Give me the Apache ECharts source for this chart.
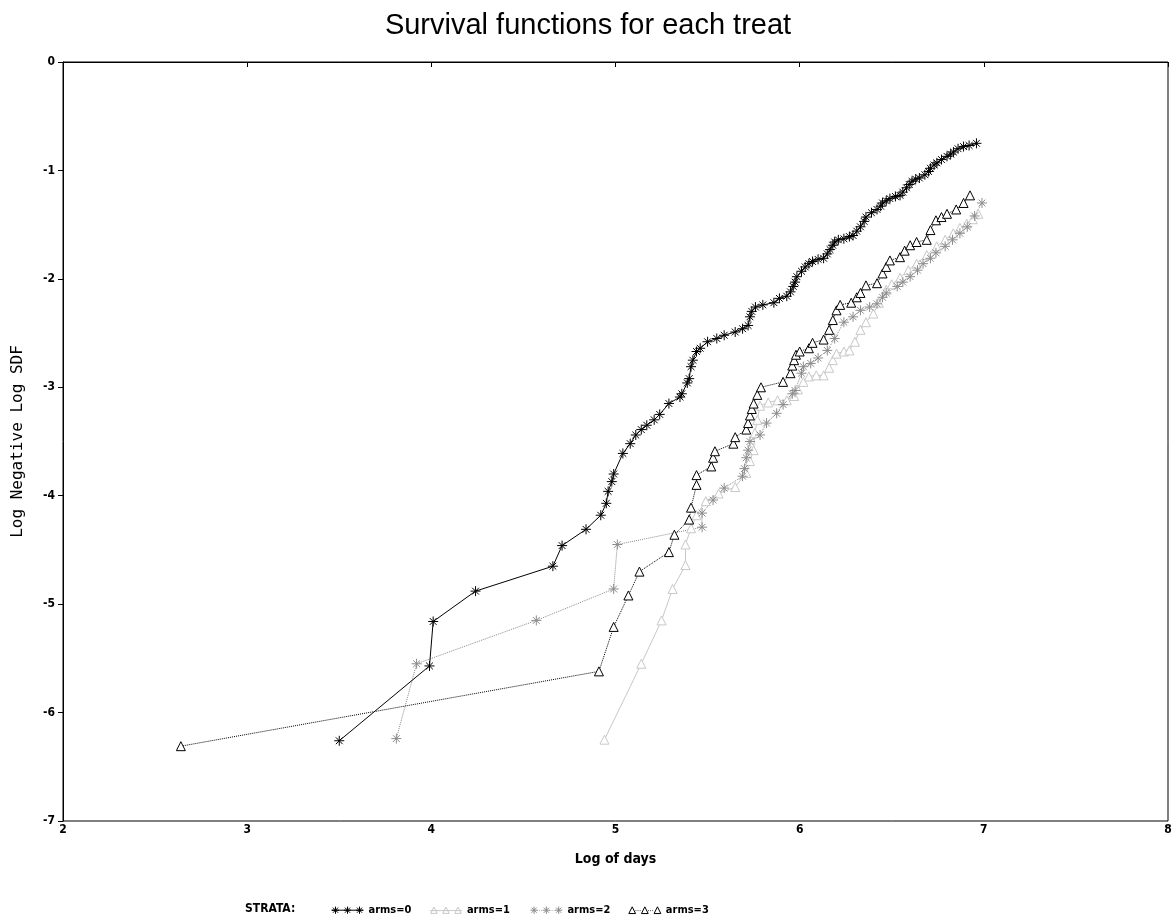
<!DOCTYPE html>
<html>
<head>
<meta charset="utf-8">
<script src="https://cdn.jsdelivr.net/npm/echarts@6/dist/echarts.min.js"></script>
<style>html,body{margin:0;padding:0;background:#fff;}#chart{width:1176px;height:924px;}</style>
</head>
<body>
<div id="chart"></div>
<script>
const seriesNames = ['arms=0', 'arms=1', 'arms=2', 'arms=3'];
const xTicks = [2, 3, 4, 5, 6, 7, 8];
const yTicks = [-7, -6, -5, -4, -3, -2, -1, 0];

const arms0 = [[3.50,-6.26],[3.99,-5.57],[4.01,-5.16],[4.24,-4.88],[4.66,-4.65],[4.71,-4.46],[4.84,-4.31],[4.92,-4.18],[4.95,-4.07],[4.96,-3.96],[4.98,-3.87],[4.99,-3.80],[5.04,-3.61],[5.08,-3.52],[5.11,-3.44],[5.14,-3.39],[5.17,-3.35],[5.21,-3.30],[5.24,-3.25],[5.29,-3.15],[5.35,-3.09],[5.36,-3.06],[5.39,-2.96],[5.40,-2.92],[5.41,-2.81],[5.42,-2.75],[5.44,-2.67],[5.46,-2.64],[5.50,-2.58],[5.55,-2.55],[5.59,-2.52],[5.65,-2.49],[5.69,-2.46],[5.72,-2.43],[5.73,-2.35],[5.74,-2.30],[5.76,-2.26],[5.80,-2.24],[5.86,-2.22],[5.89,-2.18],[5.93,-2.16],[5.95,-2.12],[5.965,-2.07],[5.975,-2.03],[5.985,-1.98],[6.01,-1.93],[6.03,-1.89],[6.05,-1.86],[6.07,-1.84],[6.10,-1.82],[6.13,-1.81],[6.15,-1.77],[6.165,-1.73],[6.18,-1.69],[6.19,-1.66],[6.21,-1.64],[6.24,-1.63],[6.27,-1.61],[6.29,-1.60],[6.31,-1.56],[6.33,-1.52],[6.35,-1.47],[6.36,-1.43],[6.39,-1.39],[6.42,-1.36],[6.44,-1.33],[6.45,-1.30],[6.47,-1.28],[6.49,-1.26],[6.52,-1.24],[6.545,-1.23],[6.56,-1.20],[6.58,-1.16],[6.595,-1.13],[6.61,-1.10],[6.63,-1.08],[6.65,-1.07],[6.68,-1.04],[6.70,-1.01],[6.71,-0.98],[6.73,-0.95],[6.745,-0.93],[6.77,-0.90],[6.80,-0.87],[6.82,-0.85],[6.835,-0.83],[6.86,-0.80],[6.89,-0.78],[6.92,-0.77],[6.96,-0.75]];

const arms1 = [[4.94,-6.25],[5.14,-5.55],[5.25,-5.15],[5.31,-4.86],[5.38,-4.64],[5.38,-4.45],[5.41,-4.30],[5.44,-4.18],[5.49,-4.05],[5.56,-3.98],[5.65,-3.92],[5.71,-3.79],[5.73,-3.68],[5.75,-3.58],[5.757,-3.42],[5.77,-3.30],[5.785,-3.17],[5.83,-3.14],[5.88,-3.12],[5.93,-3.12],[5.97,-3.08],[5.99,-3.02],[6.02,-2.95],[6.05,-2.90],[6.09,-2.89],[6.13,-2.89],[6.16,-2.82],[6.18,-2.75],[6.20,-2.69],[6.24,-2.67],[6.27,-2.66],[6.30,-2.58],[6.33,-2.47],[6.36,-2.40],[6.40,-2.32],[6.43,-2.22],[6.47,-2.10],[6.50,-2.05],[6.545,-1.99],[6.59,-1.92],[6.635,-1.86],[6.69,-1.78],[6.744,-1.70],[6.79,-1.64],[6.834,-1.58],[6.87,-1.53],[6.907,-1.49],[6.94,-1.45],[6.97,-1.40]];

const arms2 = [[3.81,-6.24],[3.92,-5.55],[4.57,-5.15],[4.99,-4.86],[5.01,-4.45],[5.47,-4.29],[5.47,-4.16],[5.53,-4.04],[5.59,-3.93],[5.69,-3.82],[5.70,-3.75],[5.71,-3.65],[5.72,-3.58],[5.73,-3.50],[5.785,-3.44],[5.82,-3.33],[5.875,-3.24],[5.91,-3.16],[5.96,-3.06],[5.975,-3.03],[6.01,-2.87],[6.02,-2.81],[6.06,-2.78],[6.10,-2.73],[6.15,-2.66],[6.19,-2.55],[6.24,-2.40],[6.29,-2.35],[6.33,-2.29],[6.38,-2.26],[6.42,-2.23],[6.45,-2.17],[6.47,-2.13],[6.53,-2.07],[6.56,-2.03],[6.60,-1.98],[6.64,-1.92],[6.67,-1.86],[6.71,-1.81],[6.74,-1.76],[6.79,-1.70],[6.83,-1.64],[6.87,-1.58],[6.91,-1.52],[6.95,-1.42],[6.99,-1.30]];

const arms3 = [[2.64,-6.31],[4.91,-5.62],[4.99,-5.21],[5.07,-4.92],[5.13,-4.70],[5.29,-4.52],[5.32,-4.36],[5.40,-4.22],[5.41,-4.11],[5.44,-3.90],[5.44,-3.81],[5.52,-3.73],[5.53,-3.65],[5.54,-3.59],[5.64,-3.52],[5.65,-3.46],[5.71,-3.39],[5.72,-3.33],[5.73,-3.26],[5.74,-3.20],[5.75,-3.15],[5.77,-3.07],[5.79,-3.00],[5.91,-2.95],[5.95,-2.87],[5.96,-2.80],[5.97,-2.75],[5.98,-2.70],[6.00,-2.67],[6.05,-2.64],[6.07,-2.59],[6.13,-2.56],[6.16,-2.47],[6.18,-2.38],[6.20,-2.29],[6.22,-2.24],[6.28,-2.22],[6.31,-2.17],[6.33,-2.13],[6.36,-2.06],[6.42,-2.04],[6.45,-1.95],[6.47,-1.89],[6.49,-1.83],[6.545,-1.80],[6.57,-1.74],[6.60,-1.69],[6.635,-1.66],[6.69,-1.64],[6.71,-1.55],[6.74,-1.46],[6.77,-1.43],[6.80,-1.40],[6.85,-1.36],[6.89,-1.30],[6.925,-1.23]];

const ASTER = 'path://M5,0L5,10M0,5L10,5M1.6,1.6L8.4,8.4M1.6,8.4L8.4,1.6';
const tickFont = 'DejaVu Sans Condensed, DejaVu Sans, sans-serif';

function asterAt(cx) {
  return 'M' + cx + ',0.5L' + cx + ',9.5M' + (cx - 4.5) + ',5L' + (cx + 4.5) + ',5M' + (cx - 3.2) + ',1.8L' + (cx + 3.2) + ',8.2M' + (cx - 3.2) + ',8.2L' + (cx + 3.2) + ',1.8';
}
function triAt(cx) {
  return 'M' + cx + ',1L' + (cx + 4) + ',9L' + (cx - 4) + ',9Z';
}
function dots(a, b) {
  let s = '';
  for (let x = a; x < b; x += 2.5) s += 'M' + x + ',5.5L' + (x + 0.8) + ',5.5';
  return s;
}
const icons = [
  'path://M0,5L40,5' + asterAt(5) + asterAt(20) + asterAt(35),
  'path://M0,5.5L40,5.5' + triAt(5) + triAt(20) + triAt(35),
  'path://' + dots(9, 16) + dots(24, 31) + asterAt(5) + asterAt(20) + asterAt(35),
  'path://' + dots(9, 16) + dots(24, 31) + triAt(5) + triAt(20) + triAt(35)
];
const iconStroke = ['#000', '#c8c8c8', '#8c8c8c', '#000'];
const iconFill = ['none', '#fff', 'none', '#fff'];

const chart = echarts.init(document.getElementById('chart'), null, {renderer: 'canvas'});

function mk(name, data, sym, stroke, lineType, fill) {
  return {
    name: name,
    type: 'line',
    data: data,
    symbol: sym,
    symbolSize: sym === 'triangle' ? 9 : 10,
    showSymbol: true,
    animation: false,
    itemStyle: {color: fill, borderColor: stroke, borderWidth: 1},
    lineStyle: {color: stroke, width: 1, type: lineType},
    emphasis: {disabled: true}
  };
}

chart.setOption({
  backgroundColor: '#fff',
  animation: false,
  title: {
    text: 'Survival functions for each treat',
    left: 'center', top: 6,
    textStyle: {fontFamily: 'Liberation Sans, Arial, sans-serif', fontSize: 29, fontWeight: 'normal', color: '#000'}
  },
  grid: {left: 63, right: 8, top: 62, bottom: 103, containLabel: false, outerBoundsMode: 'none', show: true, borderColor: '#000', borderWidth: 1, backgroundColor: 'transparent'},
  xAxis: {
    type: 'value', min: xTicks[0], max: xTicks[xTicks.length - 1], interval: 1,
    name: 'Log of days', nameLocation: 'middle', nameGap: 31,
    nameTextStyle: {fontFamily: tickFont, fontSize: 14, fontWeight: 'bold', color: '#000'},
    axisLine: {show: true, lineStyle: {color: '#000', width: 1}},
    axisTick: {show: true, length: 5, lineStyle: {color: '#000'}},
    axisLabel: {margin: 3, fontFamily: tickFont, fontSize: 12, fontWeight: 'bold', color: '#000'},
    splitLine: {show: false}
  },
  yAxis: {
    type: 'value', min: yTicks[0], max: yTicks[yTicks.length - 1], interval: 1,
    name: 'Log Negative Log SDF', nameLocation: 'middle', nameGap: 37,
    nameTextStyle: {fontFamily: 'DejaVu Sans Mono, monospace', fontSize: 16, color: '#000'},
    axisLine: {show: true, lineStyle: {color: '#000', width: 1}},
    axisTick: {show: true, length: 5, lineStyle: {color: '#000'}},
    axisLabel: {margin: 8, fontFamily: tickFont, fontSize: 12, fontWeight: 'bold', color: '#000'},
    splitLine: {show: false}
  },
  legend: {
    left: 324, top: 899,
    itemWidth: 32, itemHeight: 9, itemGap: 18,
    itemStyle: {borderWidth: 1},
    data: seriesNames.map(function (n, i) {
      return {name: n, icon: icons[i], itemStyle: {color: iconFill[i], borderColor: iconStroke[i], borderWidth: 1}};
    }),
    textStyle: {fontFamily: tickFont, fontSize: 11, fontWeight: 'bold', color: '#000', padding: [0, 0, 0, 0]}
  },
  graphic: [{
    type: 'text', left: 245, top: 903,
    style: {text: 'STRATA:', fontFamily: tickFont, fontSize: 12, fontWeight: 'bold', fill: '#000'}
  }],
  series: [
    mk(seriesNames[1], arms1, 'triangle', '#c8c8c8', 'solid', '#fff'),
    mk(seriesNames[2], arms2, ASTER, '#8c8c8c', 'dotted', 'transparent'),
    mk(seriesNames[0], arms0, ASTER, '#000', 'solid', 'transparent'),
    mk(seriesNames[3], arms3, 'triangle', '#000', 'dotted', '#fff')
  ]
});
</script>
</body>
</html>
